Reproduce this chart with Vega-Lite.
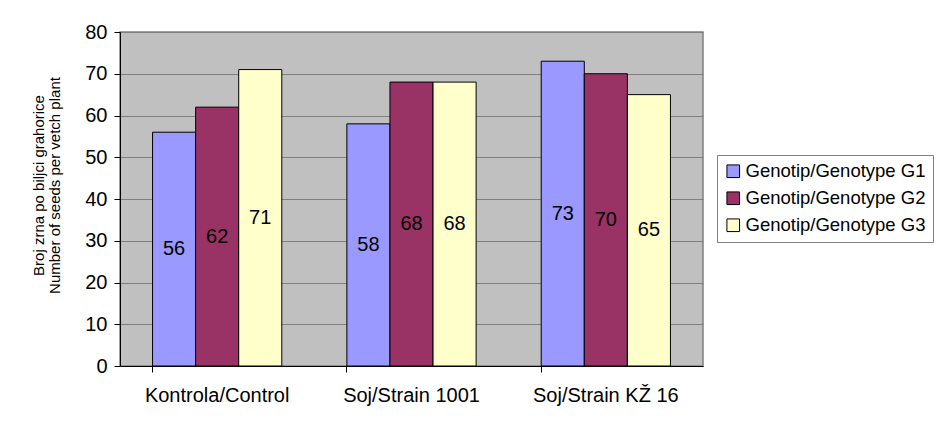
{
  "$schema": "https://vega.github.io/schema/vega-lite/v6.json",
  "autosize": {"type": "none"},
  "padding": {"left": 120, "top": 32, "right": 240, "bottom": 61},
  "width": 583,
  "height": 334,
  "background": "white",
  "config": {
    "font": "Liberation Sans",
    "view": {"fill": "#C0C0C0", "stroke": "#808080", "strokeWidth": 1.5}
  },
  "data": {
    "values": [
      {"treatment": "Kontrola/Control", "genotype": "Genotip/Genotype G1", "value": 56},
      {"treatment": "Kontrola/Control", "genotype": "Genotip/Genotype G2", "value": 62},
      {"treatment": "Kontrola/Control", "genotype": "Genotip/Genotype G3", "value": 71},
      {"treatment": "Soj/Strain 1001", "genotype": "Genotip/Genotype G1", "value": 58},
      {"treatment": "Soj/Strain 1001", "genotype": "Genotip/Genotype G2", "value": 68},
      {"treatment": "Soj/Strain 1001", "genotype": "Genotip/Genotype G3", "value": 68},
      {"treatment": "Soj/Strain KŽ 16", "genotype": "Genotip/Genotype G1", "value": 73},
      {"treatment": "Soj/Strain KŽ 16", "genotype": "Genotip/Genotype G2", "value": 70},
      {"treatment": "Soj/Strain KŽ 16", "genotype": "Genotip/Genotype G3", "value": 65}
    ]
  },
  "encoding": {
    "x": {
      "field": "treatment",
      "type": "nominal",
      "sort": null,
      "scale": {"paddingInner": 0.335, "paddingOuter": 0.1675}
    },
    "xOffset": {"field": "genotype", "type": "nominal", "sort": null, "scale": {"paddingInner": 0, "paddingOuter": 0}}
  },
  "layer": [
    {
      "mark": {"type": "bar", "stroke": "black", "strokeWidth": 1},
      "encoding": {
        "x": {
          "field": "treatment",
          "type": "nominal",
          "sort": null,
          "scale": {"paddingInner": 0.335, "paddingOuter": 0.1675},
          "axis": {
            "orient": "bottom",
            "title": null,
            "labelAngle": 0,
            "labelFontSize": 20,
            "labelColor": "black",
            "labelPadding": 19,
            "ticks": false,
            "domainColor": "black",
            "domainWidth": 1
          }
        },
        "y": {
          "field": "value",
          "type": "quantitative",
          "scale": {"domain": [0, 80], "nice": false},
          "axis": {
            "values": [0, 10, 20, 30, 40, 50, 60, 70, 80],
            "title": ["Broj zrna po biljci grahorice", "Number of seeds per vetch plant"],
            "titleFontSize": 15,
            "titleFontWeight": "normal",
            "titleColor": "black",
            "titlePadding": 22,
            "titleLineHeight": 16,
            "titleY": 153,
            "labelFontSize": 20,
            "labelColor": "black",
            "labelPadding": 7,
            "tickSize": 6,
            "tickColor": "black",
            "domainColor": "black",
            "grid": true,
            "gridColor": "#808080",
            "gridWidth": 1.2
          }
        },
        "color": {
          "field": "genotype",
          "type": "nominal",
          "sort": null,
          "scale": {"range": ["#9999FF", "#993366", "#FFFFCC"]},
          "legend": {
            "title": null,
            "orient": "none",
            "legendX": 597,
            "legendY": 123,
            "symbolType": "square",
            "symbolSize": 160,
            "symbolStrokeColor": "black",
            "symbolStrokeWidth": 1,
            "symbolOpacity": 1,
            "labelFontSize": 18.5,
            "labelColor": "black",
            "labelOffset": 3,
            "rowPadding": 8,
            "strokeColor": "#808080",
            "fillColor": "white",
            "padding": 7,
            "labelLimit": 300
          }
        }
      }
    },
    {
      "mark": {"type": "text", "fontSize": 20, "color": "black", "baseline": "middle"},
      "encoding": {
        "x": {
          "field": "treatment",
          "type": "nominal",
          "sort": null,
          "scale": {"paddingInner": 0.335, "paddingOuter": 0.1675},
          "axis": {
            "orient": "bottom",
            "title": null,
            "labels": false,
            "domain": false,
            "bandPosition": 0,
            "ticks": true,
            "tickSize": 6,
            "tickColor": "black"
          }
        },
        "y": {
          "field": "value",
          "type": "quantitative",
          "scale": {"domain": [0, 160], "nice": false},
          "axis": null
        },
        "text": {"field": "value", "type": "quantitative"}
      }
    }
  ],
  "resolve": {"scale": {"y": "independent"}, "axis": {"x": "independent"}}
}
